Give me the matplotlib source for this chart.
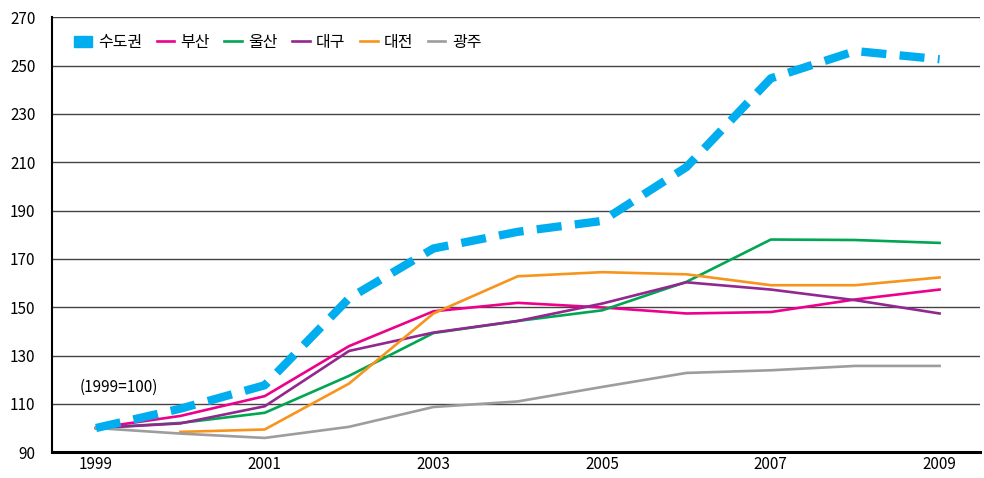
import matplotlib
matplotlib.use("Agg")
import matplotlib.pyplot as plt
import matplotlib.patches as mpatches

plt.rcParams['font.family'] = ['Noto Sans CJK KR', 'DejaVu Sans']

years = [1999, 2000, 2001, 2002, 2003, 2004, 2005, 2006, 2007, 2008, 2009]
years_daejeon = years[1:]

# 지역별 지수 (1999=100)
capital = [100, 108, 117.7, 153.7, 174.3, 181.2, 185.7, 208, 244.7, 256, 252.6]
busan = [100, 105, 113.2, 133.9, 148.3, 151.8, 149.9, 147.4, 148, 153.2, 157.3]
ulsan = [100, 102.1, 106.3, 121.6, 139.3, 144.3, 148.7, 160.5, 178, 177.8, 176.6]
daegu = [100, 101.9, 109, 131.9, 139.5, 144.3, 151.5, 160.3, 157.3, 152.9, 147.4]
daejeon = [98.4, 99.4, 118.4, 147.4, 162.8, 164.5, 163.6, 159.1, 159.1, 162.3]
gwangju = [100, 97.7, 95.9, 100.5, 108.7, 111, 117, 122.8, 123.9, 125.7, 125.7]

yticks = list(range(90, 271, 20))
xticks = [1999, 2001, 2003, 2005, 2007, 2009]

fig = plt.figure(figsize=(9.84, 4.78), dpi=100)
ax = fig.add_axes([0.053, 0.054, 0.943, 0.91])

ax.plot(years, busan, color='#EC008C', lw=1.9, label='부산')
ax.plot(years, ulsan, color='#00A651', lw=1.9, label='울산')
ax.plot(years, daegu, color='#92278F', lw=1.9, label='대구')
ax.plot(years_daejeon, daejeon, color='#F7941D', lw=1.9, label='대전')
ax.plot(years, gwangju, color='#9D9D9F', lw=1.9, label='광주')
ax.plot(years, capital, color='#00AEEF', lw=6, dashes=(3, 1.6), zorder=5)

ax.set_xlim(1998.48, 2009.48)
ax.set_ylim(90, 270)
ax.set_yticks(yticks)
ax.set_xticks(xticks)
ax.grid(axis='y', color='#444444', lw=1)
ax.set_axisbelow(True)
ax.tick_params(length=0, labelsize=11)
ax.tick_params(axis='x', pad=3)
ax.tick_params(axis='y', pad=12)
for s in ['top', 'right']:
    ax.spines[s].set_visible(False)
ax.spines['left'].set_linewidth(1.5)
ax.spines['bottom'].set_linewidth(2.2)

ax.text(1998.8, 117, '(1999=100)', fontsize=11, va='center')

# 수도권은 범례에서 사각형으로 표시
handles, labels = ax.get_legend_handles_labels()
handles = [mpatches.Patch(color='#00AEEF')] + handles
labels = ['수도권'] + labels
ax.legend(handles, labels, loc='upper left', ncol=6, frameon=False,
          fontsize=11.5, handlelength=1.1, columnspacing=0.9,
          handletextpad=0.4, bbox_to_anchor=(0.008, 0.995))

fig.savefig('out.png', dpi=100)
